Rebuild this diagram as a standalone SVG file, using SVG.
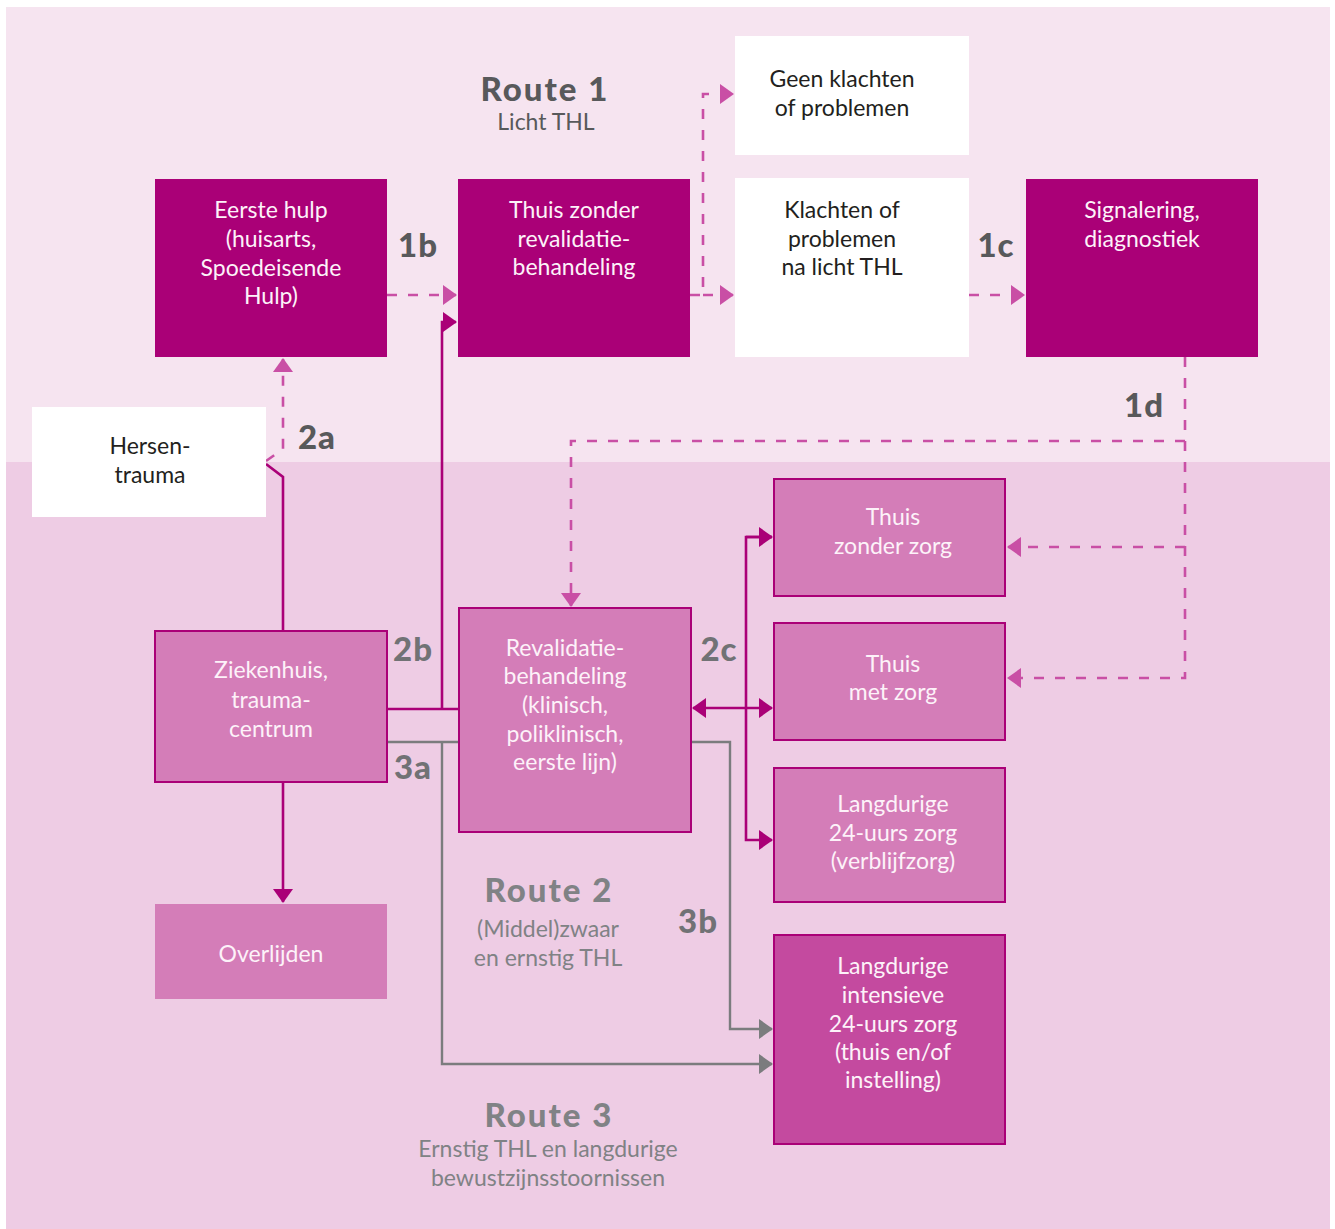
<svg xmlns="http://www.w3.org/2000/svg" width="1335" height="1229" viewBox="0 0 1335 1229">
<style>
.t{font-family:Lato,"Liberation Sans",sans-serif;font-size:23px;text-anchor:middle}
.w{fill:#fdf2f9}
.d{fill:#231f20}
.lb{font-family:Lato,"Liberation Sans",sans-serif;font-weight:900;font-size:33px;text-anchor:middle;letter-spacing:1px}
.l1{fill:#58595b}
.l2{fill:#717275}
.rt{font-family:Lato,"Liberation Sans",sans-serif;font-weight:900;font-size:33px;text-anchor:middle;letter-spacing:2px}
.rs{font-family:Lato,"Liberation Sans",sans-serif;font-size:23px;text-anchor:middle}
.dk{fill:#aa0077}
.pk{fill:#d47db8;stroke:#aa0077;stroke-width:2}
.dash{fill:none;stroke:#c94fa5;stroke-width:2.6;stroke-dasharray:10 11}
.sol{fill:none;stroke:#aa0077;stroke-width:2.6}
.gr{fill:none;stroke:#7b7c7e;stroke-width:2.4}
</style>
<defs>
<marker id="aD" markerUnits="userSpaceOnUse" markerWidth="14" markerHeight="20" viewBox="0 0 14 20" refX="13" refY="10" orient="auto"><path d="M0,0 L14,10 L0,20 z" fill="#c94fa5"/></marker>
<marker id="aS" markerUnits="userSpaceOnUse" markerWidth="14" markerHeight="20" viewBox="0 0 14 20" refX="13" refY="10" orient="auto-start-reverse"><path d="M0,0 L14,10 L0,20 z" fill="#aa0077"/></marker>
<marker id="aG" markerUnits="userSpaceOnUse" markerWidth="14" markerHeight="20" viewBox="0 0 14 20" refX="13" refY="10" orient="auto"><path d="M0,0 L14,10 L0,20 z" fill="#7b7c7e"/></marker>
</defs>
<rect x="0" y="0" width="1335" height="1229" fill="#ffffff"/>
<rect x="6" y="7" width="1324" height="455" fill="#f6e4f0"/>
<rect x="6" y="462" width="1324" height="767" fill="#eecce4"/>

<g id="route-labels">
<text class="rt l1" x="545" y="101">Route 1</text>
<text class="rs l1" x="546" y="130">Licht THL</text>
<text class="rt" fill="#808285" x="549" y="902">Route 2</text>
<text class="rs" fill="#808285" x="548" y="937">(Middel)zwaar</text>
<text class="rs" fill="#808285" x="548" y="966">en ernstig THL</text>
<text class="rt" fill="#808285" x="549" y="1127">Route 3</text>
<text class="rs" fill="#808285" x="548" y="1157">Ernstig THL en langdurige</text>
<text class="rs" fill="#808285" x="548" y="1186">bewustzijnsstoornissen</text>
</g>

<g id="connectors">
<path class="dash" d="M387,295 H456" marker-end="url(#aD)"/>
<path class="dash" d="M690,295 H703 V94 H733" marker-end="url(#aD)"/>
<path class="dash" d="M703,295 H733" marker-end="url(#aD)"/>
<path class="dash" d="M969,295 H1024" marker-end="url(#aD)"/>
<path class="dash" d="M1185,357 V678 H1008" marker-end="url(#aD)"/>
<path class="dash" d="M1185,441 H571 V606" marker-end="url(#aD)"/>
<path class="dash" d="M1185,547 H1008" marker-end="url(#aD)"/>
<path class="dash" d="M266,461 L283,449 V359" marker-end="url(#aD)"/>
<path class="sol" d="M283,631 V477 L266,464"/>
<path class="sol" d="M283,782 V902" marker-end="url(#aS)"/>
<path class="sol" d="M387,709 H459"/>
<path class="sol" d="M442,709 V322 H456" marker-end="url(#aS)"/>
<path class="sol" d="M693,708 H772" marker-start="url(#aS)" marker-end="url(#aS)"/>
<path class="sol" d="M772,537 H746 V840 H772" marker-end="url(#aS)"/>
<path class="sol" d="M746,537 H772" marker-end="url(#aS)"/>
<path class="gr" d="M387,742 H459"/>
<path class="gr" d="M442,742 V1064 H772" marker-end="url(#aG)"/>
<path class="gr" d="M691,742 H730 V1029 H772" marker-end="url(#aG)"/>
</g>

<g id="labels">
<text class="lb l1" x="418" y="257">1b</text>
<text class="lb l1" x="996" y="257">1c</text>
<text class="lb l1" x="1144" y="417">1d</text>
<text class="lb l1" x="317" y="449">2a</text>
<text class="lb l2" x="413" y="661">2b</text>
<text class="lb l2" x="719" y="661">2c</text>
<text class="lb l2" x="413" y="779">3a</text>
<text class="lb l2" x="698" y="933">3b</text>
</g>

<g id="eerste-hulp">
<rect class="dk" x="155" y="179" width="232" height="178"/>
<text class="t w" x="271" y="218">Eerste hulp</text>
<text class="t w" x="271" y="247">(huisarts,</text>
<text class="t w" x="271" y="276">Spoedeisende</text>
<text class="t w" x="271" y="304">Hulp)</text>
</g>
<g id="thuis-zonder-revalidatie">
<rect class="dk" x="458" y="179" width="232" height="178"/>
<text class="t w" x="574" y="218">Thuis zonder</text>
<text class="t w" x="574" y="247">revalidatie-</text>
<text class="t w" x="574" y="275">behandeling</text>
</g>
<g id="geen-klachten">
<rect fill="#ffffff" x="735" y="36" width="234" height="119"/>
<text class="t d" x="842" y="87">Geen klachten</text>
<text class="t d" x="842" y="116">of problemen</text>
</g>
<g id="klachten">
<rect fill="#ffffff" x="735" y="178" width="234" height="179"/>
<text class="t d" x="842" y="218">Klachten of</text>
<text class="t d" x="842" y="247">problemen</text>
<text class="t d" x="842" y="275">na licht THL</text>
</g>
<g id="signalering">
<rect class="dk" x="1026" y="179" width="232" height="178"/>
<text class="t w" x="1142" y="218">Signalering,</text>
<text class="t w" x="1142" y="247">diagnostiek</text>
</g>
<g id="hersentrauma">
<rect fill="#ffffff" x="32" y="407" width="234" height="110"/>
<text class="t d" x="150" y="454">Hersen-</text>
<text class="t d" x="150" y="483">trauma</text>
</g>
<g id="ziekenhuis">
<rect class="pk" x="155" y="631" width="232" height="151"/>
<text class="t w" x="271" y="678">Ziekenhuis,</text>
<text class="t w" x="271" y="708">trauma-</text>
<text class="t w" x="271" y="737">centrum</text>
</g>
<g id="revalidatie">
<rect class="pk" x="459" y="608" width="232" height="224"/>
<text class="t w" x="565" y="656">Revalidatie-</text>
<text class="t w" x="565" y="684">behandeling</text>
<text class="t w" x="565" y="713">(klinisch,</text>
<text class="t w" x="565" y="742">poliklinisch,</text>
<text class="t w" x="565" y="770">eerste lijn)</text>
</g>
<g id="thuis-zonder-zorg">
<rect class="pk" x="774" y="479" width="231" height="117"/>
<text class="t w" x="893" y="525">Thuis</text>
<text class="t w" x="893" y="554">zonder zorg</text>
</g>
<g id="thuis-met-zorg">
<rect class="pk" x="774" y="623" width="231" height="117"/>
<text class="t w" x="893" y="672">Thuis</text>
<text class="t w" x="893" y="700">met zorg</text>
</g>
<g id="langdurige-24">
<rect class="pk" x="774" y="768" width="231" height="134"/>
<text class="t w" x="893" y="812">Langdurige</text>
<text class="t w" x="893" y="841">24-uurs zorg</text>
<text class="t w" x="893" y="869">(verblijfzorg)</text>
</g>
<g id="langdurige-intensieve">
<rect fill="#c44a9f" stroke="#aa0077" stroke-width="2" x="774" y="935" width="231" height="209"/>
<text class="t w" x="893" y="974">Langdurige</text>
<text class="t w" x="893" y="1003">intensieve</text>
<text class="t w" x="893" y="1032">24-uurs zorg</text>
<text class="t w" x="893" y="1060">(thuis en/of</text>
<text class="t w" x="893" y="1088">instelling)</text>
</g>
<g id="overlijden">
<rect fill="#d47db8" x="155" y="904" width="232" height="95"/>
<text class="t w" x="271" y="962">Overlijden</text>
</g>
</svg>
